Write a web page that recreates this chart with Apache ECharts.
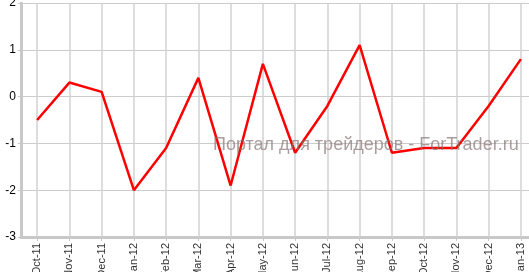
<!DOCTYPE html>
<html><head><meta charset="utf-8">
<script src="https://cdn.jsdelivr.net/npm/echarts@6/dist/echarts.min.js"></script>
<style>html,body{margin:0;padding:0;background:#fff}#c{width:529px;height:272px}</style>
</head><body><div id="c"></div>
<script>
const categories = ['Oct-11','Nov-11','Dec-11','Jan-12','Feb-12','Mar-12','Apr-12','May-12','Jun-12','Jul-12','Aug-12','Sep-12','Oct-12','Nov-12','Dec-12','Jan-13'];
const values = [-0.5, 0.3, 0.1, -2.0, -1.1, 0.4, -1.9, 0.7, -1.2, -0.2, 1.1, -1.2, -1.1, -1.1, -0.2, 0.8];
const yTicks = [-3, -2, -1, 0, 1, 2];
const watermark = 'Портал для трейдеров - ForTrader.ru';

const chart = echarts.init(document.getElementById('c'), null, {renderer: 'canvas'});
chart.setOption({
  animation: false,
  backgroundColor: '#ffffff',
  grid: {left: 21, top: 3, width: 516, height: 234, containLabel: false, outerBoundsMode: 'none'},
  xAxis: {
    type: 'category', data: categories, boundaryGap: true,
    axisLine: {onZero: false, lineStyle: {color: '#c8c8c8', width: 3}},
    axisTick: {show: true, alignWithLabel: true, length: 4, lineStyle: {color: '#c8c8c8'}},
    axisLabel: {rotate: 90, fontSize: 11, color: '#333', margin: 6, fontFamily: 'Liberation Sans, Arial, sans-serif', interval: 0},
    splitLine: {show: false}
  },
  yAxis: {
    type: 'value', min: yTicks[0], max: yTicks[yTicks.length-1], interval: 1,
    axisLine: {show: true, onZero: false, lineStyle: {color: '#c8c8c8', width: 3}},
    axisTick: {show: true, length: 3, lineStyle: {color: '#c8c8c8'}},
    axisLabel: {fontSize: 12, color: '#000', margin: 5, fontFamily: 'Liberation Sans, Arial, sans-serif'},
    splitLine: {show: true, lineStyle: {color: '#cccccc', width: 1}}
  },
  graphic: [{
    type: 'text', left: 213, top: 136, z: 10, silent: true,
    style: {text: watermark, fontSize: 18, fontFamily: 'Liberation Sans, Arial, sans-serif', fill: 'rgba(135,115,115,0.7)'}
  }],
  series: [
    {
      type: 'line', data: categories.map(() => null), z: 1, silent: true,
      markLine: {
        silent: true, symbol: 'none', label: {show: false},
        lineStyle: {color: '#d2d2d2', width: 1.5, type: 'solid'},
        data: categories.map(c => ({xAxis: c}))
      }
    },
    {
      type: 'line', data: values, z: 5, showSymbol: false, symbol: 'none',
      lineStyle: {color: '#ff0000', width: 2.5}
    }
  ]
});
</script></body></html>
